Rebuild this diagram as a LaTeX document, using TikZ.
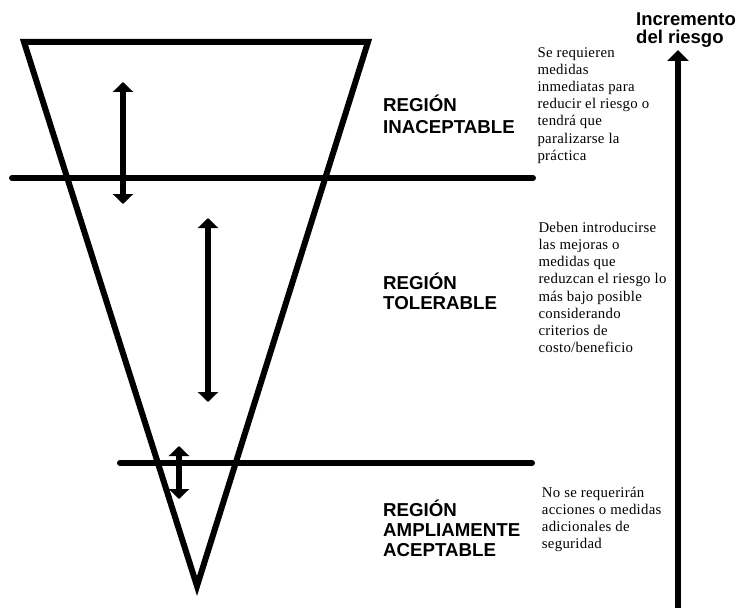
\documentclass[tikz,border=0pt]{standalone}
\usepackage{fontspec}
\setmainfont{Liberation Serif}
\newfontfamily\headfont{Liberation Sans}
\newfontfamily\notefont[LetterSpace=2]{Liberation Serif}
\usetikzlibrary{arrows.meta}
\begin{document}
\begin{tikzpicture}[x=1pt,y=-1pt,
  thickline/.style={line width=6pt},
  dbl/.style={line width=5.5pt,{Triangle[width=20pt,length=10pt]}-{Triangle[width=20pt,length=10pt]}},
  region/.style={font=\headfont\bfseries\fontsize{18.7}{20}\selectfont, align=left, anchor=base west, inner sep=0pt},
  note/.style={font=\notefont\fontsize{14.8}{17.2}\selectfont, align=left, anchor=base west, inner sep=0pt}]
\useasboundingbox (0,0) rectangle (738,607);
% funnel
\coordinate (tl) at (24,42);
\coordinate (tr) at (368,42);
\coordinate (bt) at (197,586);
\draw[thickline, line join=miter] (tl) -- (tr) -- (bt) -- cycle;
% separating lines
\coordinate (h1l) at (12,178);
\coordinate (h1r) at (533,178);
\coordinate (h2l) at (120,463);
\coordinate (h2r) at (532,463);
\draw[thickline, line cap=round] (h1l) -- (h1r);
\draw[thickline, line cap=round] (h2l) -- (h2r);
% double arrows
\coordinate (a1t) at (123,82);
\coordinate (a1b) at (123,204);
\coordinate (a2t) at (208,218);
\coordinate (a2b) at (208,402);
\coordinate (a3t) at (179,446);
\coordinate (a3b) at (179,499);
\draw[dbl] (a1t) -- (a1b);
\draw[dbl] (a2t) -- (a2b);
\draw[dbl] (a3t) -- (a3b);
% risk axis
\coordinate (rb) at (678,610);
\coordinate (rt) at (678,50);
\draw[line width=6pt,-{Triangle[width=21pt,length=11pt]}] (rb) -- (rt);
\node[region, font=\headfont\bfseries\fontsize{18.5}{17.5}\selectfont] (inc) at (636,43.5) {Incremento\\del riesgo};
% region labels
\node[region, font=\headfont\bfseries\fontsize{18.7}{21.6}\selectfont] (r1) at (383,133.3) {REGIÓN\\INACEPTABLE};
\node[region] (r2) at (383,309) {REGIÓN\\TOLERABLE};
\node[region] (r3) at (383,556) {REGIÓN\\AMPLIAMENTE\\ACEPTABLE};
% notes
\node[note] (n1) at (537.3,160.2) {Se requieren\\medidas\\inmediatas para\\reducir el riesgo o\\tendrá que\\paralizarse la\\práctica};
\node[note] (n2) at (538.3,352.6) {Deben introducirse\\las mejoras o\\medidas que\\reduzcan el riesgo lo\\más bajo posible\\considerando\\criterios de\\costo/beneficio};
\node[note] (n3) at (541.7,548.8) {No se requerirán\\acciones o medidas\\adicionales de\\seguridad};
\end{tikzpicture}
\end{document}
